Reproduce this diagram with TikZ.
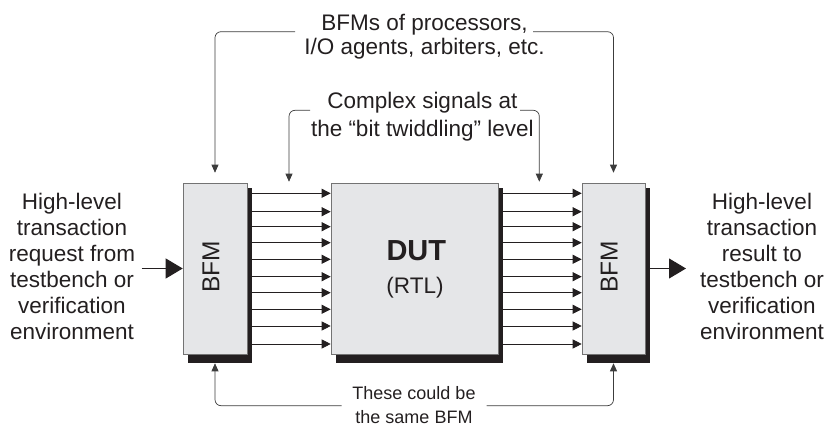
\documentclass[tikz,border=0pt]{standalone}
\usepackage{fontspec}
\setmainfont{Liberation Sans}
\usetikzlibrary{arrows.meta}
\definecolor{boxfill}{HTML}{E5E6E8}
\definecolor{ink}{HTML}{231F20}
\definecolor{wire}{HTML}{3C3C3C}
\pgfdeclarelayer{bg}
\pgfsetlayers{bg,main}
\begin{document}
\begin{tikzpicture}[x=1pt,y=-1pt,
  big/.style={font=\fontsize{22.5}{26}\selectfont, text=ink, inner sep=0pt, anchor=base},
  small/.style={font=\fontsize{18}{22}\selectfont, text=ink, inner sep=0pt, anchor=base},
  blk/.style={draw=black!55, line width=0.6pt, fill=boxfill, inner sep=0pt},
  bfmtext/.style={font=\fontsize{24.5}{28}\selectfont, text=ink, inner sep=0pt, rotate=90, anchor=base},
  bus/.style={draw=ink, line width=0.8pt, -{Triangle[length=9pt,width=9pt]}},
  fat/.style={draw=ink, line width=1pt, -{Triangle[length=17pt,width=20pt]}},
  note/.style={draw=wire, line width=0.7pt, rounded corners=6pt, -{Triangle[length=8pt,width=7pt]}}]
\useasboundingbox (0,0) rectangle (831,427);

% blocks
\node[blk, minimum width=64pt, minimum height=171pt] (bfmL) at (215,268.5) {};
\node[blk, minimum width=167pt, minimum height=171pt] (dut) at (414.5,268.5) {};
\node[blk, minimum width=63pt, minimum height=171pt] (bfmR) at (613.5,268.5) {};

\begin{pgfonlayer}{bg}
  \fill[ink] ([shift={(5,5)}]bfmL.north west) rectangle ([shift={(5,9)}]bfmL.south east);
  \fill[ink] ([shift={(5,5)}]dut.north west) rectangle ([shift={(5,9)}]dut.south east);
  \fill[ink] ([shift={(5,5)}]bfmR.north west) rectangle ([shift={(5,9)}]bfmR.south east);
\end{pgfonlayer}

\node[bfmtext] (bfmLt) at (219.3,266.7) {BFM};
\node[bfmtext] (bfmRt) at (617.5,266.7) {BFM};
\node[inner sep=0pt, anchor=base, text=ink, font=\fontsize{29}{32}\selectfont\bfseries] (dutt) at (416.3,260.7) {DUT};
\node[big, anchor=base] (rtl) at (415,293.3) {(RTL)};

% buses
\coordinate (shL) at ([xshift=5pt]bfmL.east);
\coordinate (shD) at ([xshift=5pt]dut.east);
\coordinate (shR) at ([xshift=5pt]bfmR.east);
\foreach \y [count=\i] in {193.3,211.7,226.7,242.7,259.3,276.7,292.7,309.3,326,344}{
  \coordinate (r\i) at (0,\y);
  \draw[bus] (shL |- r\i) -- (dut.west |- r\i);
  \draw[bus] (shD |- r\i) -- (bfmR.west |- r\i);
}

% left text and input arrow
\node[big] (L1) at (72,209.5) {High-level};
\node[big] (L2) at (72,235.6) {transaction};
\node[big] (L3) at (72,261.7) {request from};
\node[big] (L4) at (72,287.8) {testbench or};
\node[big] (L5) at (72,313.9) {verification};
\node[big] (L6) at (72,340) {environment};
\coordinate (inL) at (141.7,268.5);
\draw[fat] (inL) -- (bfmL.west);

% right text and output arrow
\node[big] (R1) at (762,209.5) {High-level};
\node[big] (R2) at (762,235.6) {transaction};
\node[big] (R3) at (762,261.7) {result to};
\node[big] (R4) at (762,287.8) {testbench or};
\node[big] (R5) at (762,313.9) {verification};
\node[big] (R6) at (762,340) {environment};
\coordinate (outR) at (686,268.5);
\draw[fat] (shR) -- (outR);

% top note
\node[big] (T1) at (424.5,30.7) {BFMs of processors,};
\node[big] (T2) at (424.5,55) {I/O agents, arbiters, etc.};
\coordinate (tl) at (295,31.7);
\coordinate (tr) at (533,31.7);
\draw[note] (tl) -| ([yshift=10pt]bfmL.north);
\draw[note] (tr) -| ([yshift=10pt]bfmR.north);

% complex signals note
\node[big] (C1) at (422.3,108.3) {Complex signals at};
\node[big] (C2) at (422.3,136.7) {the “bit twiddling” level};
\coordinate (cl) at (310,110.3);
\coordinate (cr) at (520,110.3);
\coordinate (cdl) at (289,181.7);
\coordinate (cdr) at (539.3,181.7);
\draw[note] (cl) -| (cdl);
\draw[note] (cr) -| (cdr);

% bottom note
\node[small] (B1) at (414,399.5) {These could be};
\node[small] (B2) at (414,423.5) {the same BFM};
\coordinate (bl) at (341.7,405.7);
\coordinate (br) at (486.7,405.7);
\draw[note] (bl) -| ([yshift=-9pt]bfmL.south);
\draw[note] (br) -| ([yshift=-9pt]bfmR.south);
\end{tikzpicture}
\end{document}
